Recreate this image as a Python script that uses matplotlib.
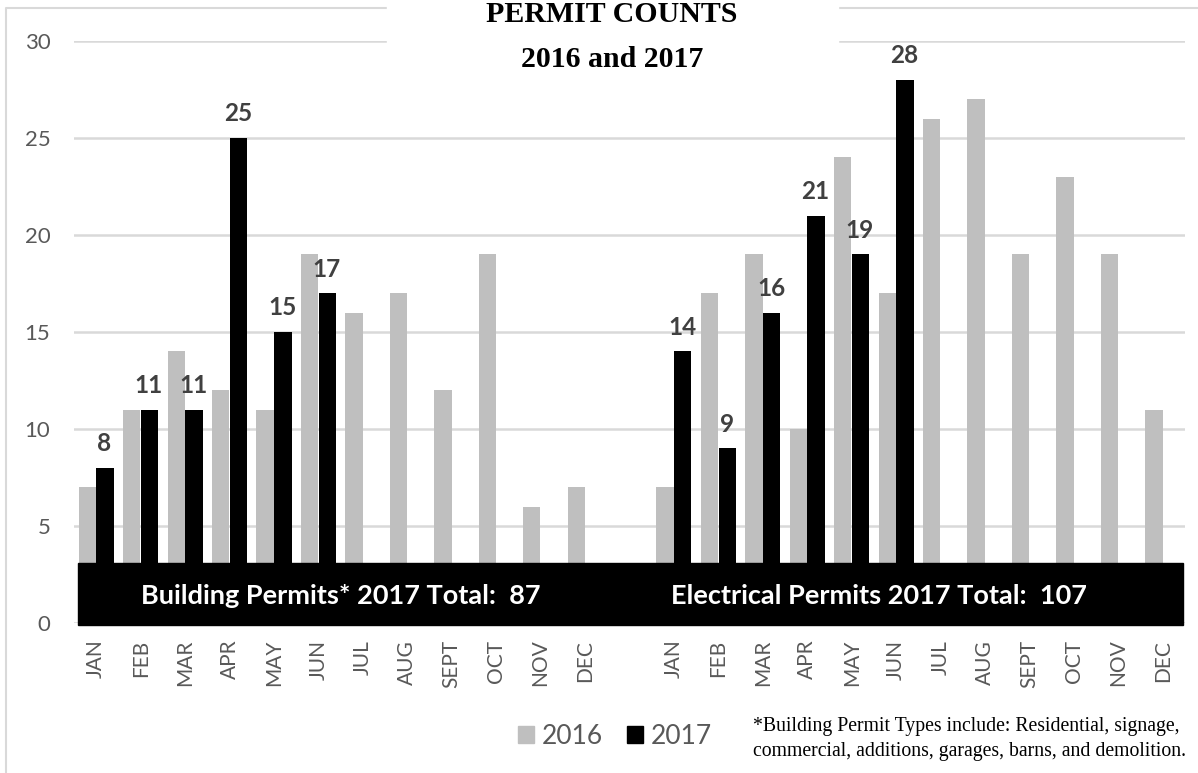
import numpy as np
import matplotlib.pyplot as plt
from matplotlib.patches import Rectangle, Patch
from matplotlib.lines import Line2D

plt.rcParams['font.family'] = ['Lato', 'DejaVu Sans']

months = ['JAN', 'FEB', 'MAR', 'APR', 'MAY', 'JUN',
          'JUL', 'AUG', 'SEPT', 'OCT', 'NOV', 'DEC']
building_2016 = [7, 11, 14, 12, 11, 19, 16, 17, 12, 19, 6, 7]
building_2017 = [8, 11, 11, 25, 15, 17]
electrical_2016 = [7, 17, 19, 10, 24, 17, 26, 27, 19, 23, 19, 11]
electrical_2017 = [14, 9, 16, 21, 19, 28]
series_names = ['2016', '2017']

GRAY = '#bfbfbf'
GRID = '#d9d9d9'
TICK = '#595959'
LABEL = '#404040'
W, H = 1198, 773

fig = plt.figure(figsize=(W / 100, H / 100), dpi=100)
ax = fig.add_axes([74 / W, 1 - 623 / H, (1185 - 74) / W, (623 - 41) / H])

# two groups of months, one empty slot between them
xb = np.arange(12)
xe = np.arange(12) + 13
w = 0.39

ax.bar(xb - 0.2, building_2016, w, color=GRAY, zorder=2)
ax.bar(xb[:len(building_2017)] + 0.2, building_2017, w, color='black', zorder=2)
ax.bar(xe - 0.2, electrical_2016, w, color=GRAY, zorder=2)
ax.bar(xe[:len(electrical_2017)] + 0.2, electrical_2017, w, color='black', zorder=2)

for xs, vals in [(xb, building_2017), (xe, electrical_2017)]:
    for x, v in zip(xs, vals):
        ax.annotate(str(v), (x + 0.2, v), xytext=(-0.5, 12), textcoords='offset points',
                    ha='center', va='baseline', fontsize=17.5, fontweight='bold',
                    color=LABEL, zorder=4)

ax.set_xlim(-0.5, 24.5)
ax.set_ylim(0, 30)
ax.set_yticks(range(0, 31, 5))
ax.set_xticks(np.concatenate([xb, xe]))
ax.set_xticklabels(months + months, rotation=90)
ax.tick_params(axis='y', length=0, pad=17, labelsize=16, labelcolor=TICK)
ax.tick_params(axis='x', length=0, pad=12, labelsize=15, labelcolor=TICK)
ax.grid(axis='y', color=GRID, lw=1.8)
ax.set_axisbelow(True)
for s in ax.spines.values():
    s.set_visible(False)

# black banner with totals
ax.add_patch(Rectangle((-0.42, -0.1), 24.87, 3.2, color='black', zorder=3, clip_on=False))
ax.text(5.5, 1.0, f'Building Permits* 2017 Total:  {sum(building_2017)}', color='white',
        fontsize=19.5, fontweight='bold', ha='center', va='baseline', zorder=4)
ax.text(17.62, 1.0, f'Electrical Permits 2017 Total:  {sum(electrical_2017)}', color='white',
        fontsize=19.5, fontweight='bold', ha='center', va='baseline', zorder=4)

# outer chart border
fig.add_artist(Line2D([6 / W, 6 / W, 1], [0, 1 - 8 / H, 1 - 8 / H],
                      transform=fig.transFigure, color=GRID, lw=1.5))

# title on a white box
fig.patches.append(Rectangle((387 / W, 1 - 50 / H), (838 - 387) / W, 50 / H,
                             transform=fig.transFigure, color='white', zorder=5))
fig.text(612 / W, 1 - 22 / H, 'PERMIT COUNTS', family='Liberation Serif', fontweight='bold',
         fontsize=21.5, ha='center', va='baseline', zorder=6)
fig.text(612 / W, 1 - 67 / H, '2016 and 2017', family='Liberation Serif', fontweight='bold',
         fontsize=21.5, ha='center', va='baseline', zorder=6)

handles = [Patch(color=GRAY), Patch(color='black')]
fig.legend(handles, series_names, loc='center', bbox_to_anchor=(615 / W, 1 - 736 / H), ncol=2,
           frameon=False, prop={'size': 19}, handlelength=0.6, handleheight=0.6,
           handletextpad=0.3, columnspacing=0.9, labelcolor=TICK)

fig.text(753 / W, 1 - 731 / H, '*Building Permit Types include: Residential, signage,',
         family='Liberation Serif', fontsize=14.2, va='baseline')
fig.text(753 / W, 1 - 756 / H, 'commercial, additions, garages, barns, and demolition.',
         family='Liberation Serif', fontsize=14.2, va='baseline')

fig.savefig('out.png', dpi=100)
